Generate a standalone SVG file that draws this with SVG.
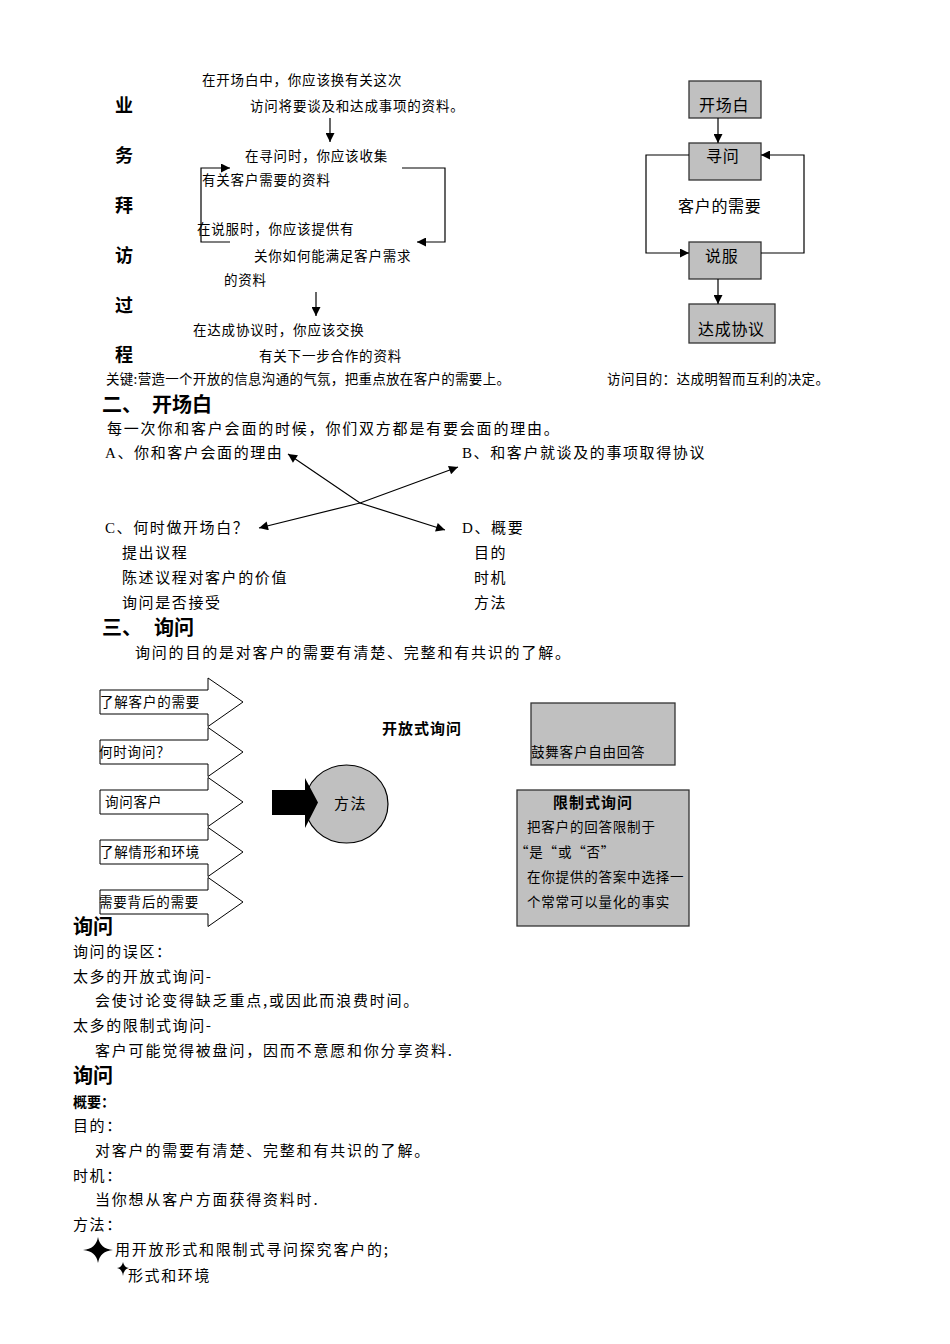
<svg xmlns="http://www.w3.org/2000/svg" width="950" height="1344" viewBox="0 0 950 1344">
<style>
text{font-family:"Noto Sans CJK SC","Liberation Serif",sans-serif;fill:#000}
.lat{font-family:"Liberation Serif",serif}
.t{font-size:15px;letter-spacing:1.6px}
.s{font-size:13.5px;letter-spacing:0.8px}
.m{font-size:16px;letter-spacing:0.7px}
.h{font-weight:bold;font-size:20px}
.v{font-weight:bold;font-size:18px}
.b{font-weight:bold;font-size:15px;letter-spacing:1px}
.ln{fill:none;stroke:#000;stroke-width:1.2}
.box{fill:#c0c0c0;stroke:#333;stroke-width:1.3}
.chev{fill:#fff;stroke:#000;stroke-width:1}
</style>
<defs>
<marker id="ah" viewBox="0 0 10 10" refX="10" refY="5" markerWidth="11" markerHeight="9" markerUnits="userSpaceOnUse" orient="auto-start-reverse"><path d="M0,0 L10,5 L0,10 z" fill="#000"/></marker>
</defs>
<rect width="950" height="1344" fill="#fff"/>

<g id="process-title">
<text class="v" x="115" y="112">业</text>
<text class="v" x="115" y="162">务</text>
<text class="v" x="115" y="212">拜</text>
<text class="v" x="115" y="262">访</text>
<text class="v" x="115" y="312">过</text>
<text class="v" x="115" y="361">程</text>
</g>
<g id="step-opening">
<text class="s" x="202" y="85">在开场白中，你应该换有关这次</text>
<text class="s" x="250" y="111">访问将要谈及和达成事项的资料。</text>
</g>
<g id="step-inquiry">
<text class="s" x="245" y="161">在寻问时，你应该收集</text>
<text class="s" x="202" y="185">有关客户需要的资料</text>
</g>
<g id="step-persuade">
<text class="s" x="197" y="234">在说服时，你应该提供有</text>
<text class="s" x="254" y="261">关你如何能满足客户需求</text>
<text class="s" x="224" y="285">的资料</text>
</g>
<g id="step-agree">
<text class="s" x="193" y="335">在达成协议时，你应该交换</text>
<text class="s" x="259" y="361">有关下一步合作的资料</text>
</g>
<g id="key-note">
<text class="s" x="106" y="384" style="letter-spacing:0.3px">关键:营造一个开放的信息沟通的气氛，把重点放在客户的需要上。</text>
</g>

<g id="fc-open"><rect class="box" x="689" y="81" width="72" height="37"/><text class="m" x="699" y="111">开场白</text></g>
<g id="fc-inquiry"><rect class="box" x="689" y="143" width="72" height="37"/><text class="m" x="706" y="162">寻问</text></g>
<g id="fc-need"><text class="m" x="678" y="212">客户的需要</text></g>
<g id="fc-persuade"><rect class="box" x="689" y="242" width="72" height="37"/><text class="m" x="705" y="262">说服</text></g>
<g id="fc-agree"><rect class="box" x="689" y="304" width="86" height="39"/><text class="m" x="698" y="335">达成协议</text></g>
<g id="fc-goal"><text class="s" x="607" y="384" style="letter-spacing:0.4px">访问目的：达成明智而互利的决定。</text></g>

<g id="sec2">
<text class="h" x="102" y="412">二、</text><text class="h" x="152" y="412">开场白</text>
<text class="t" x="107" y="434" style="letter-spacing:1.8px">每一次你和客户会面的时候，你们双方都是有要会面的理由。</text>
</g>
<g id="node-a"><text class="t" x="105" y="458"><tspan class="lat">A</tspan>、你和客户会面的理由</text></g>
<g id="node-b"><text class="t" x="462" y="458"><tspan class="lat">B</tspan>、和客户就谈及的事项取得协议</text></g>
<g id="node-c">
<text class="t" x="105" y="533"><tspan class="lat">C</tspan>、何时做开场白？</text>
<text class="t" x="122" y="558">提出议程</text>
<text class="t" x="122" y="583">陈述议程对客户的价值</text>
<text class="t" x="122" y="608">询问是否接受</text>
</g>
<g id="node-d">
<text class="t" x="462" y="533"><tspan class="lat">D</tspan>、概要</text>
<text class="t" x="474" y="558">目的</text>
<text class="t" x="474" y="583">时机</text>
<text class="t" x="474" y="608">方法</text>
</g>

<g id="sec3">
<text class="h" x="102" y="635">三、</text><text class="h" x="154" y="635">询问</text>
<text class="t" x="135" y="658" style="letter-spacing:1.8px">询问的目的是对客户的需要有清楚、完整和有共识的了解。</text>
</g>

<g id="chev1"><path class="chev" d="M100,690 H208 V678 L243,702 L208,726.5 V714 H100 Z"/><text class="s" x="100" y="707">了解客户的需要</text></g>
<g id="chev2"><path class="chev" d="M100,740 H208 V727.5 L243,752 L208,776.5 V764 H100 Z"/><text class="s" x="99" y="757">何时询问？</text></g>
<g id="chev3"><path class="chev" d="M100,790 H208 V777.5 L243,802 L208,826.5 V814 H100 Z"/><text class="s" x="105" y="807">询问客户</text></g>
<g id="chev4"><path class="chev" d="M100,840 H208 V827.5 L243,852 L208,876.5 V864 H100 Z"/><text class="s" x="100" y="857">了解情形和环境</text></g>
<g id="chev5"><path class="chev" d="M100,890 H208 V877.5 L243,902 L208,926.5 V914 H100 Z"/><text class="s" x="99" y="907">需要背后的需要</text></g>

<g id="method">
<ellipse cx="346.5" cy="804" rx="41.5" ry="39" fill="#c0c0c0" stroke="#000" stroke-width="1.2"/>
<path d="M272,790 H305 V778 L318,802.5 L305,828 V815 H272 Z" fill="#000"/>
<text class="t" x="334" y="809">方法</text>
</g>
<g id="open-q">
<text class="b" x="382" y="734">开放式询问</text>
<rect class="box" x="531" y="703" width="144" height="62"/>
<text class="s" x="531" y="757">鼓舞客户自由回答</text>
</g>
<g id="closed-q">
<rect class="box" x="517" y="790" width="172" height="136"/>
<text class="b" x="553" y="808">限制式询问</text>
<text class="s" x="527" y="832">把客户的回答限制于</text>
<text class="s" x="515" y="857">“是“或“否”</text>
<text class="s" x="527" y="882">在你提供的答案中选择一</text>
<text class="s" x="527" y="907">个常常可以量化的事实</text>
</g>

<g id="pitfalls">
<text class="h" x="73" y="934">询问</text>
<text class="t" x="73" y="957">询问的误区：</text>
<text class="t" x="73" y="982">太多的开放式询问-</text>
<text class="t" x="95" y="1006" style="letter-spacing:1.8px">会使讨论变得缺乏重点,或因此而浪费时间。</text>
<text class="t" x="73" y="1031">太多的限制式询问-</text>
<text class="t" x="95" y="1056" style="letter-spacing:1.8px">客户可能觉得被盘问，因而不意愿和你分享资料.</text>
</g>
<g id="summary">
<text class="h" x="73" y="1083">询问</text>
<text x="73" y="1107" style="font-weight:bold;font-size:14px">概要：</text>
<text class="t" x="73" y="1131">目的：</text>
<text class="t" x="95" y="1156" style="letter-spacing:1.8px">对客户的需要有清楚、完整和有共识的了解。</text>
<text class="t" x="73" y="1181">时机：</text>
<text class="t" x="95" y="1205" style="letter-spacing:1.8px">当你想从客户方面获得资料时.</text>
<text class="t" x="73" y="1230">方法：</text>
<path d="M83,1250 Q96,1249 98,1237 Q100,1249 113,1250 Q100,1251 98,1263 Q96,1251 83,1250 Z" fill="#000"/>
<text class="t" x="115" y="1255" style="letter-spacing:1.8px">用开放形式和限制式寻问探究客户的;</text>
<path d="M117,1268 Q122,1267.5 123,1262 Q124,1267.5 129,1268 Q124,1268.5 123,1276 Q122,1268.5 117,1268 Z" fill="#000"/>
<text class="t" x="128" y="1281">形式和环境</text>
</g>

<g id="connectors">
<line class="ln" x1="330" y1="118" x2="330" y2="142" marker-end="url(#ah)"/>
<polyline class="ln" points="230,242 201,242 201,168 230,168" marker-end="url(#ah)"/>
<polyline class="ln" points="402,168 445,168 445,242 417,242" marker-end="url(#ah)"/>
<line class="ln" x1="316" y1="292" x2="316" y2="316" marker-end="url(#ah)"/>
<line class="ln" x1="718" y1="118" x2="718" y2="143" marker-end="url(#ah)"/>
<polyline class="ln" points="689,155 646,155 646,253 689,253" marker-end="url(#ah)"/>
<polyline class="ln" points="761,253 804,253 804,155 761,155" marker-end="url(#ah)"/>
<line class="ln" x1="718" y1="279" x2="718" y2="304" marker-end="url(#ah)"/>
<polyline class="ln" points="288,454 360,503 445,530" marker-start="url(#ah)" marker-end="url(#ah)"/>
<polyline class="ln" points="458,467 360,503 259,528" marker-start="url(#ah)" marker-end="url(#ah)"/>
</g>
</svg>
